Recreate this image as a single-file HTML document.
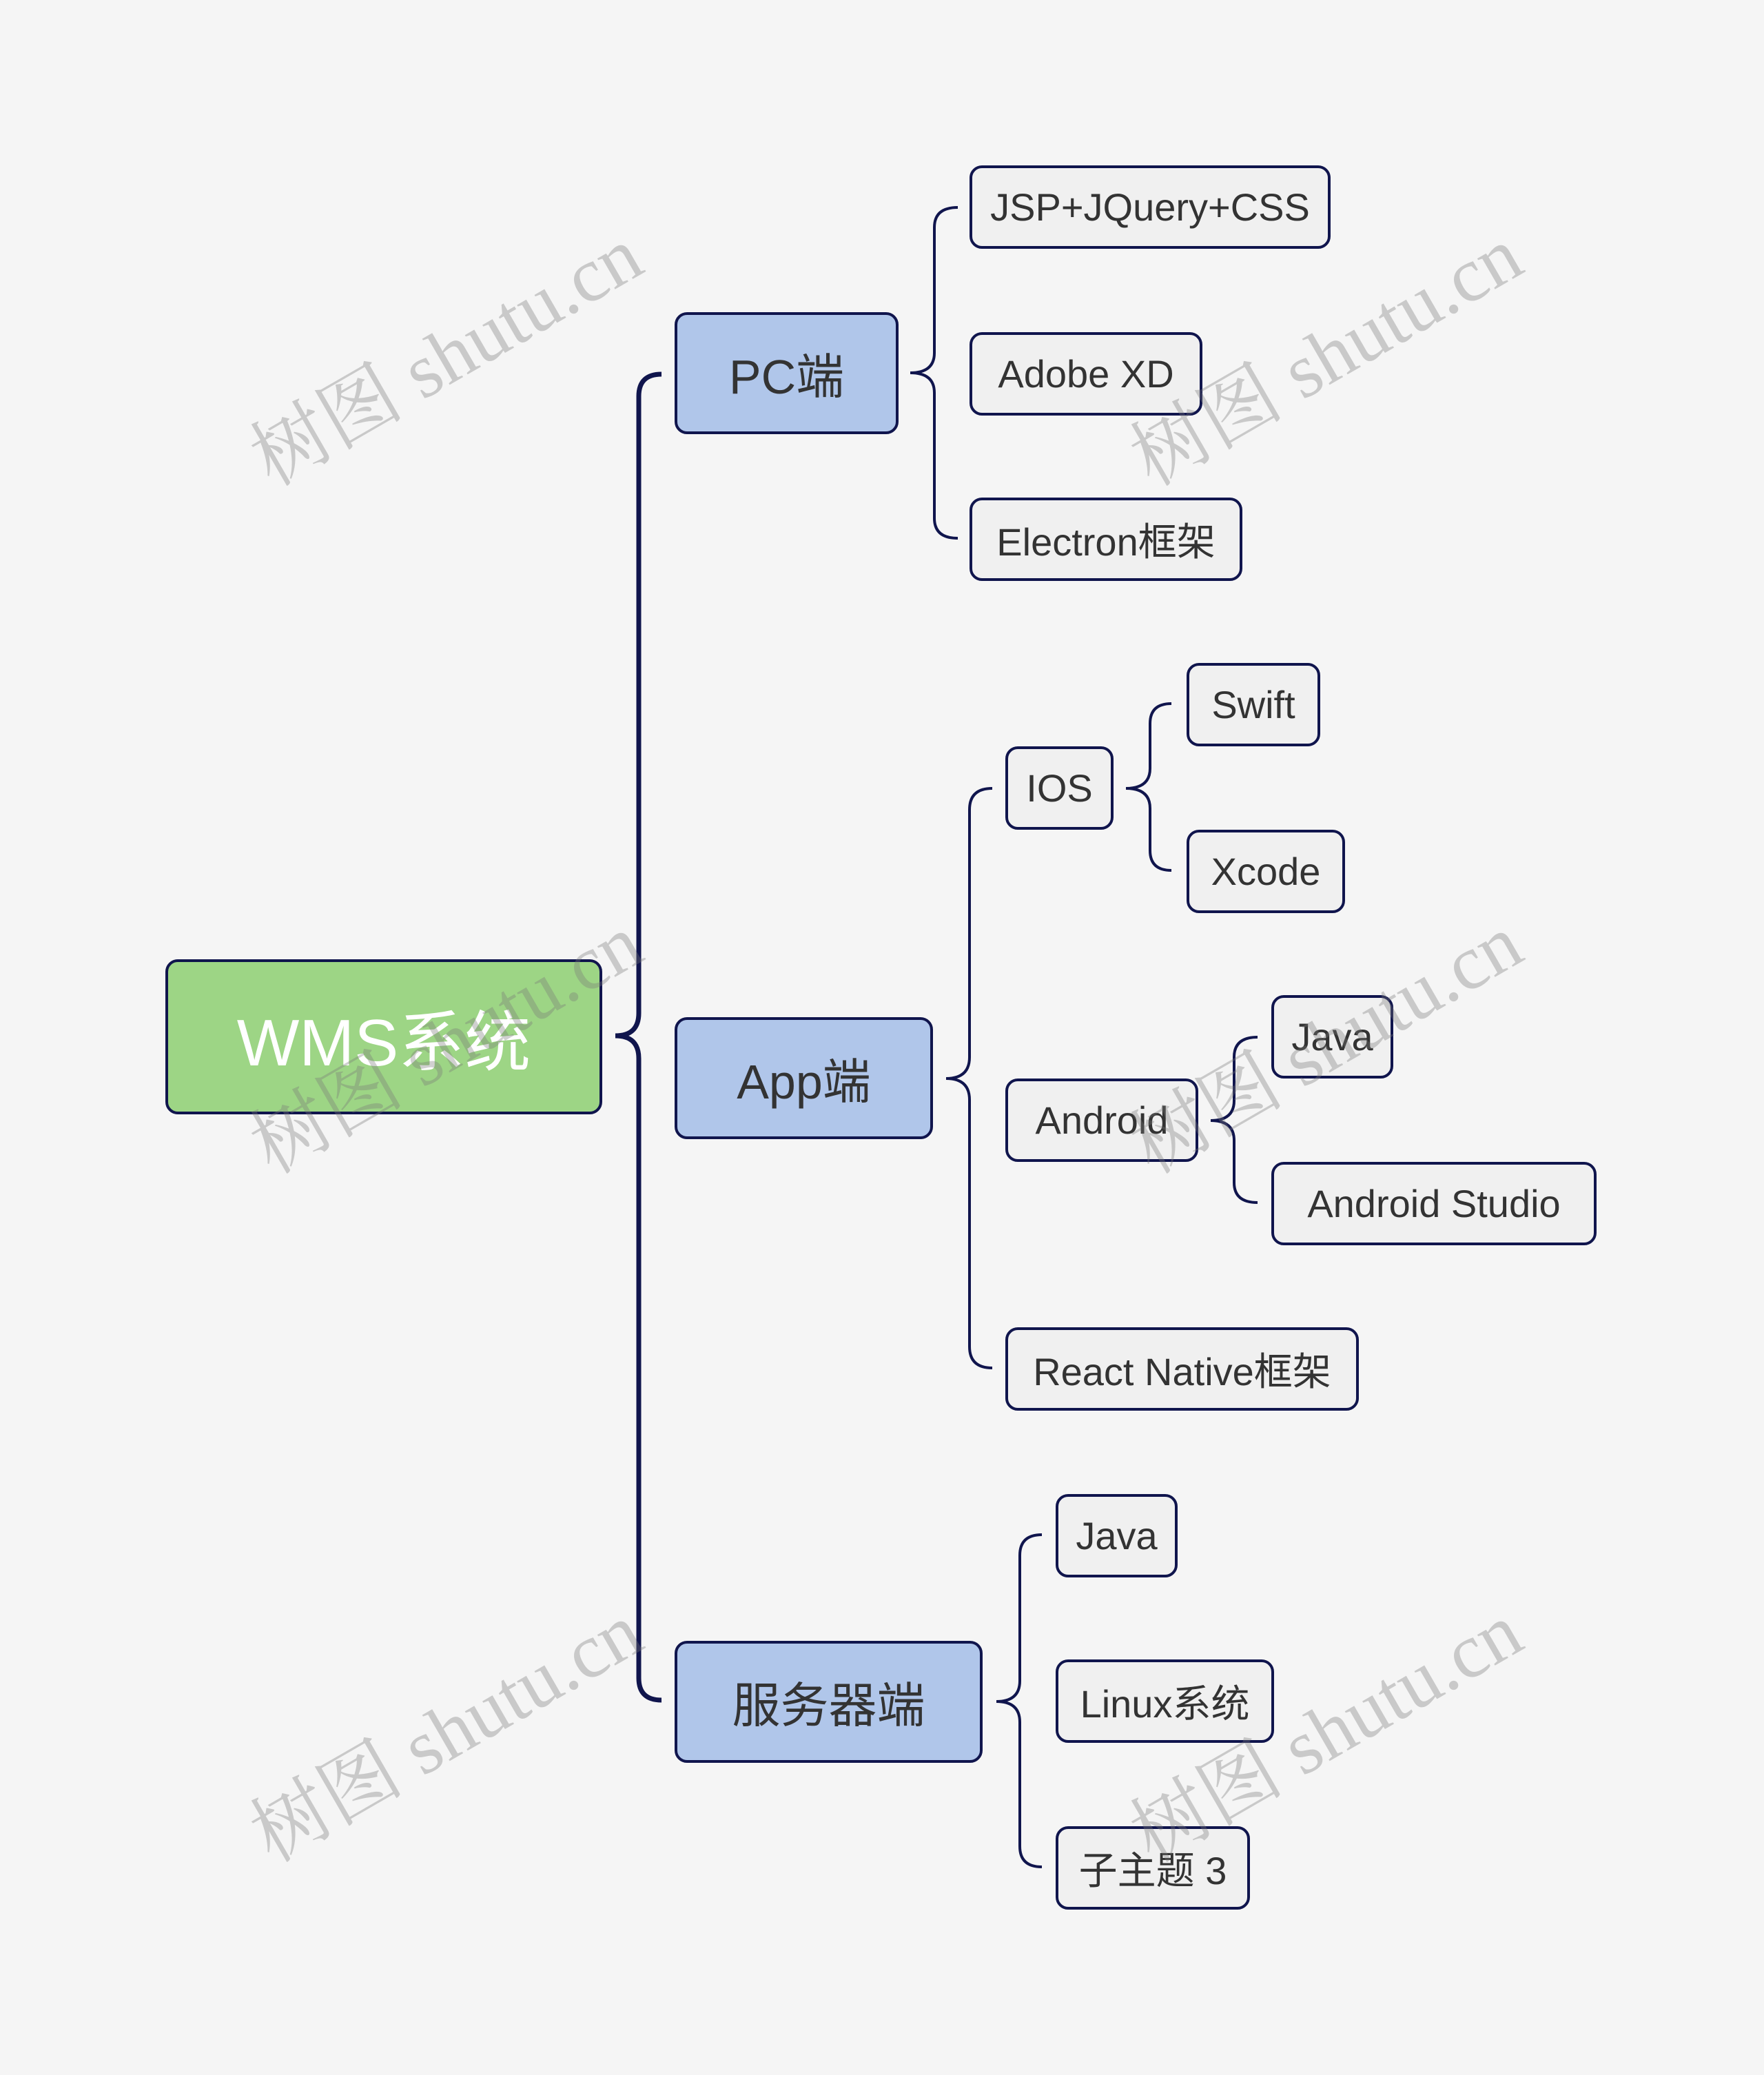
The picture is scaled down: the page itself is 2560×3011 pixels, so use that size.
<!DOCTYPE html>
<html><head><meta charset="utf-8"><style>
html,body{margin:0;padding:0}
body{width:2560px;height:3011px;background:#f5f5f5;position:relative;overflow:hidden;font-family:"Liberation Sans","Noto Sans CJK SC",sans-serif}
.n{position:absolute;box-sizing:border-box;border:4px solid #10154d;border-radius:18px;display:flex;align-items:center;justify-content:center;color:#333;white-space:nowrap}
.c{background:#f0f0f0;font-size:56px;height:121px}
.l1{background:#b0c6ea;font-size:70px;height:177px}
.root{background:#9dd585;color:#fff;font-size:96px}
.wm{position:absolute;font-family:"Liberation Serif","Noto Serif CJK SC",serif;font-size:112px;color:rgba(120,120,120,0.35);transform:translate(-50%,-50%) rotate(-30deg);white-space:nowrap;z-index:5}
svg{position:absolute;left:0;top:0}
</style></head><body>
<svg width="2560" height="3011" fill="none" stroke="#10154d">
<path stroke-width="7" d="M960,543 Q927,543 927,575 L927,1470 Q927,1503 893,1503 Q927,1503 927,1536 L927,2435 Q927,2467 960,2467"/>
<path stroke-width="4" d="M1390,301 Q1356,301 1356,330 L1356,512 Q1356,541 1321,541 Q1356,541 1356,570 L1356,752 Q1356,781 1390,781"/>
<path stroke-width="4" d="M1440,1144 Q1407,1144 1407,1175 L1407,1534 Q1407,1565 1373,1565 Q1407,1565 1407,1596 L1407,1954 Q1407,1985 1440,1985"/>
<path stroke-width="4" d="M1700,1021 Q1669,1021 1669,1050 L1669,1115 Q1669,1144 1634,1144 Q1669,1144 1669,1173 L1669,1234 Q1669,1263 1700,1263"/>
<path stroke-width="4" d="M1825,1505 Q1791,1505 1791,1534 L1791,1597 Q1791,1626 1757,1626 Q1791,1626 1791,1655 L1791,1716 Q1791,1745 1825,1745"/>
<path stroke-width="4" d="M1512,2227 Q1480,2227 1480,2257 L1480,2439 Q1480,2469 1446,2469 Q1480,2469 1480,2499 L1480,2679 Q1480,2709 1512,2709"/>
</svg>
<div class="n root" style="left:240px;top:1392px;width:634px;height:225px">WMS系统</div>
<div class="n l1" style="left:979px;top:453px;width:325px">PC端</div>
<div class="n l1" style="left:979px;top:1476px;width:375px">App端</div>
<div class="n l1" style="left:979px;top:2381px;width:447px">服务器端</div>
<div class="n c" style="left:1407px;top:240px;width:524px">JSP+JQuery+CSS</div>
<div class="n c" style="left:1407px;top:482px;width:338px">Adobe XD</div>
<div class="n c" style="left:1407px;top:722px;width:396px">Electron框架</div>
<div class="n c" style="left:1459px;top:1083px;width:157px">IOS</div>
<div class="n c" style="left:1722px;top:962px;width:194px">Swift</div>
<div class="n c" style="left:1722px;top:1204px;width:230px">Xcode</div>
<div class="n c" style="left:1459px;top:1565px;width:280px">Android</div>
<div class="n c" style="left:1845px;top:1444px;width:177px">Java</div>
<div class="n c" style="left:1845px;top:1686px;width:472px">Android Studio</div>
<div class="n c" style="left:1459px;top:1926px;width:513px">React Native框架</div>
<div class="n c" style="left:1532px;top:2168px;width:177px">Java</div>
<div class="n c" style="left:1532px;top:2408px;width:317px">Linux系统</div>
<div class="n c" style="left:1532px;top:2650px;width:282px">子主题 3</div>
<div class="wm" style="left:643px;top:509px">树图 shutu.cn</div>
<div class="wm" style="left:1920px;top:509px">树图 shutu.cn</div>
<div class="wm" style="left:643px;top:1507px">树图 shutu.cn</div>
<div class="wm" style="left:1920px;top:1507px">树图 shutu.cn</div>
<div class="wm" style="left:643px;top:2506px">树图 shutu.cn</div>
<div class="wm" style="left:1920px;top:2506px">树图 shutu.cn</div>
</body></html>
